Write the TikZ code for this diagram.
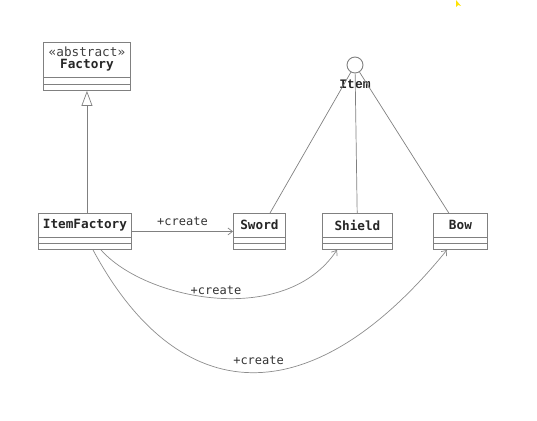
\documentclass[tikz,border=0pt]{standalone}
\usepackage{fontspec}
\setmonofont{DejaVu Sans Mono}
\newfontfamily\itemfont{Liberation Mono}
\usetikzlibrary{arrows.meta,calc}

% draws the two empty compartments of a class box at the given offsets
\newcommand\umlcompartments[3]{%
  \draw[boxline] ($(#1.north west)+(0,#2)$) -- ($(#1.north east)+(0,#2)$);
  \draw[boxline] ($(#1.north west)+(0,#3)$) -- ($(#1.north east)+(0,#3)$);}

\begin{document}
\begin{tikzpicture}[x=1pt,y=-1pt,
  boxline/.style={draw=black!50, line width=0.9pt},
  classbox/.style={boxline, anchor=north west, inner sep=0pt, minimum height=36},
  classname/.style={font=\fontsize{12.7}{14}\selectfont\ttfamily\bfseries, text=black!85, inner sep=0pt},
  stereotype/.style={font=\fontsize{12.7}{14}\selectfont\ttfamily, text=black!75, inner sep=0pt},
  assoc/.style={draw=black!50, line width=0.7pt},
  curved/.style={draw=black!45, line width=0.7pt},
  openarrow/.style={-{Straight Barb[length=4.5pt,width=7pt]}},
  lbl/.style={font=\fontsize{12}{14}\selectfont\ttfamily, text=black!80, inner sep=0pt}]
\useasboundingbox (0,0) rectangle (537,420);

% abstract base class
\node[classbox, minimum width=87, minimum height=48] (factory) at (43,42) {};
\node[stereotype] (factorystereo) at ($(factory.north)+(0,10)$) {«abstract»};
\node[classname] (factoryname) at ($(factory.north)+(0,23)$) {Factory};
\umlcompartments{factory}{35}{42}

% concrete factory and products
\node[classbox, minimum width=93] (itemfactory) at (38,213) {};
\node[classname] (itemfactoryname) at ($(itemfactory.north)+(0,12)$) {ItemFactory};
\umlcompartments{itemfactory}{24}{30}

\node[classbox, minimum width=52] (sword) at (233,213) {};
\node[classname] (swordname) at ($(sword.north)+(0,12)$) {Sword};
\umlcompartments{sword}{24}{30}

\node[classbox, minimum width=70] (shield) at (322,213) {};
\node[classname] (shieldname) at ($(shield.north)+(0,12)$) {Shield};
\umlcompartments{shield}{24}{30}

\node[classbox, minimum width=54] (bow) at (433,213) {};
\node[classname] (bowname) at ($(bow.north)+(0,12)$) {Bow};
\umlcompartments{bow}{24}{30}

% Item interface (lollipop)
\node[circle, boxline, minimum size=16, inner sep=0pt] (item) at (355,65) {};
\node[font=\fontsize{13}{14}\selectfont\itemfont\bfseries, text=black!85, inner sep=0pt] (itemname) at (355,84) {Item};
\draw[assoc] (item) -- (sword);
\draw[assoc] (item) -- (shield);
\draw[assoc] (item) -- (bow);

% generalization
\draw[assoc, -{Triangle[open, length=15pt, width=11pt]}] (itemfactory.north -| factory.south) -- (factory.south);

% create dependencies
\draw[assoc, openarrow] (itemfactory.east) -- (sword.west) node[midway, above=5pt, lbl] {+create};
\draw[curved, openarrow] ($(itemfactory.south west)+(63,0)$) .. controls (145,300) and (285,328) .. ($(shield.south west)+(15,0)$)
  node[pos=0.5, above=2.5pt, lbl] {+create};
\draw[curved, openarrow] ($(itemfactory.south west)+(55,0)$) .. controls (179,410) and (311,417) .. ($(bow.south west)+(14,0)$)
  node[pos=0.52, above=7pt, lbl] {+create};

% pointer mark in the corner
\fill[yellow!85!orange] (456,0) -- (456,7) -- (458,5) -- (461,6) -- cycle;
\end{tikzpicture}
\end{document}
